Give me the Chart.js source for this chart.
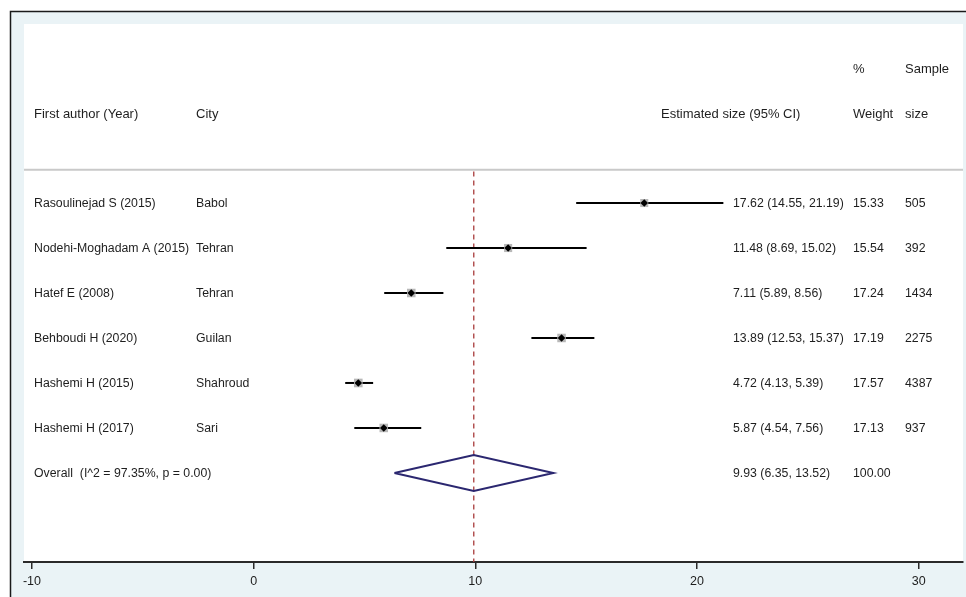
<!DOCTYPE html>
<html>
<head>
<meta charset="utf-8">
<script src="https://cdn.jsdelivr.net/npm/chart.js@4/dist/chart.umd.min.js"></script>
<style>
  html, body { margin: 0; padding: 0; background: #fff; }
  #wrap { width: 966px; height: 597px; position: relative; }
</style>
</head>
<body>
<div id="wrap"><canvas id="forest"></canvas></div>
<script>
// study data
const authors = ['Rasoulinejad S (2015)', 'Nodehi-Moghadam A (2015)', 'Hatef E (2008)', 'Behboudi H (2020)', 'Hashemi H (2015)', 'Hashemi H (2017)'];
const cities = ['Babol', 'Tehran', 'Tehran', 'Guilan', 'Shahroud', 'Sari'];
const estimates = [17.62, 11.48, 7.11, 13.89, 4.72, 5.87];
const lower = [14.55, 8.69, 5.89, 12.53, 4.13, 4.54];
const upper = [21.19, 15.02, 8.56, 15.37, 5.39, 7.56];
const weights = [15.33, 15.54, 17.24, 17.19, 17.57, 17.13];
const sampleSizes = [505, 392, 1434, 2275, 4387, 937];

// pooled estimate
const overallLabel = 'Overall  (I^2 = 97.35%, p = 0.00)';
const overallCI = [6.35, 9.93, 13.52];
const overallWeight = '100.00';

const xTicks = [-10, 0, 10, 20, 30];

const BODY_FONT = '12.3px "Liberation Sans", Arial, sans-serif';
const HEAD_FONT = '13px "Liberation Sans", Arial, sans-serif';
const TEXT = '#1e1e1e';
const firstRow = 2;
const overallRow = firstRow + authors.length;
const fmt = v => v.toFixed(2);

// one line dataset per confidence interval
const ciSets = estimates.map((e, i) => ({
    type: 'line',
    data: [{ x: lower[i], y: firstRow + i }, { x: upper[i], y: firstRow + i }],
    borderColor: '#000',
    borderWidth: 2,
    pointRadius: 0,
    order: 2
}));

const boxSet = {
    type: 'scatter',
    data: estimates.map((e, i) => ({ x: e, y: firstRow + i })),
    pointStyle: 'rect',
    pointRadius: weights.map(w => 6 * Math.sqrt(w / 17)),
    backgroundColor: '#b8b8b8',
    borderWidth: 0,
    order: 1
};

const markerSet = {
    type: 'scatter',
    data: estimates.map((e, i) => ({ x: e, y: firstRow + i })),
    pointStyle: 'rectRot',
    pointRadius: 3.8,
    backgroundColor: '#000',
    borderWidth: 0,
    order: 0
};

const diamondSet = {
    type: 'line',
    data: [
        { x: overallCI[0], y: overallRow },
        { x: overallCI[1], y: overallRow - 0.4 },
        { x: overallCI[2], y: overallRow },
        { x: overallCI[1], y: overallRow + 0.4 },
        { x: overallCI[0], y: overallRow }
    ],
    borderColor: '#2b2770',
    borderWidth: 2,
    pointRadius: 0,
    tension: 0,
    order: 0
};

const refSet = {
    type: 'line',
    data: [{ x: overallCI[1], y: 1.3 }, { x: overallCI[1], y: 9.98 }],
    borderColor: '#a83a3a',
    borderWidth: 1.3,
    borderDash: [5, 4],
    pointRadius: 0,
    order: 3
};

// background panel, header and table text
const panelPlugin = {
    id: 'panel',
    beforeDraw(chart) {
        const { ctx, chartArea: a, width, height } = chart;
        ctx.save();
        ctx.fillStyle = '#fff';
        ctx.fillRect(0, 0, width, height);
        ctx.fillStyle = '#eaf3f6';
        ctx.fillRect(10, 11, width - 10, height - 11);
        ctx.strokeStyle = '#1a1a1a';
        ctx.lineWidth = 1.5;
        ctx.beginPath();
        ctx.moveTo(10.5, height);
        ctx.lineTo(10.5, 11.5);
        ctx.lineTo(width, 11.5);
        ctx.stroke();
        ctx.fillStyle = '#fff';
        ctx.fillRect(a.left, a.top, a.right - a.left, a.bottom - a.top);
        // separator under header
        const ys = chart.scales.y.getPixelForValue(1.26);
        ctx.strokeStyle = '#c9c9c9';
        ctx.lineWidth = 2;
        ctx.beginPath();
        ctx.moveTo(a.left, ys);
        ctx.lineTo(a.right, ys);
        ctx.stroke();
        ctx.restore();
    },
    afterDraw(chart) {
        const { ctx } = chart;
        const y = chart.scales.y;
        ctx.save();
        ctx.fillStyle = TEXT;
        ctx.textBaseline = 'middle';
        ctx.textAlign = 'left';
        const put = (t, x, row) => ctx.fillText(t, x, y.getPixelForValue(row) + 1);
        ctx.font = HEAD_FONT;
        put('%', 853, -1);
        put('Sample', 905, -1);
        put('First author (Year)', 34, 0);
        put('City', 196, 0);
        put('Estimated size (95% CI)', 661, 0);
        put('Weight', 853, 0);
        put('size', 905, 0);
        ctx.font = BODY_FONT;
        authors.forEach((name, i) => {
            const r = firstRow + i;
            put(name, 34, r);
            put(cities[i], 196, r);
            put(`${fmt(estimates[i])} (${fmt(lower[i])}, ${fmt(upper[i])})`, 733, r);
            put(fmt(weights[i]), 853, r);
            put(String(sampleSizes[i]), 905, r);
        });
        put(overallLabel, 34, overallRow);
        put(`${fmt(overallCI[1])} (${fmt(overallCI[0])}, ${fmt(overallCI[2])})`, 733, overallRow);
        put(overallWeight, 853, overallRow);
        ctx.restore();
    }
};

const canvas = document.getElementById('forest');
canvas.width = 966;
canvas.height = 597;

new Chart(canvas, {
    type: 'line',
    data: { datasets: [...ciSets, boxSet, markerSet, diamondSet, refSet] },
    options: {
        responsive: false,
        animation: false,
        devicePixelRatio: 1,
        layout: { autoPadding: false, padding: { left: 24, top: 24, right: 3, bottom: 0 } },
        plugins: { legend: { display: false }, tooltip: { enabled: false } },
        scales: {
            x: {
                type: 'linear',
                min: -10.36,
                max: 32.0,
                afterBuildTicks: s => { s.ticks = xTicks.map(v => ({ value: v })); },
                afterFit: s => { s.height = 35; },
                border: { display: true, color: '#2a2a2a', width: 2 },
                grid: { display: true, drawOnChartArea: false, drawTicks: true, tickLength: 7, color: '#2a2a2a', lineWidth: 1.5 },
                ticks: { color: TEXT, font: { family: '"Liberation Sans", Arial, sans-serif', size: 12.5 }, padding: 5, maxRotation: 0 }
            },
            y: {
                type: 'linear',
                reverse: true,
                min: -1.98,
                max: 9.98,
                display: false
            }
        }
    },
    plugins: [panelPlugin]
});
</script>
</body>
</html>
